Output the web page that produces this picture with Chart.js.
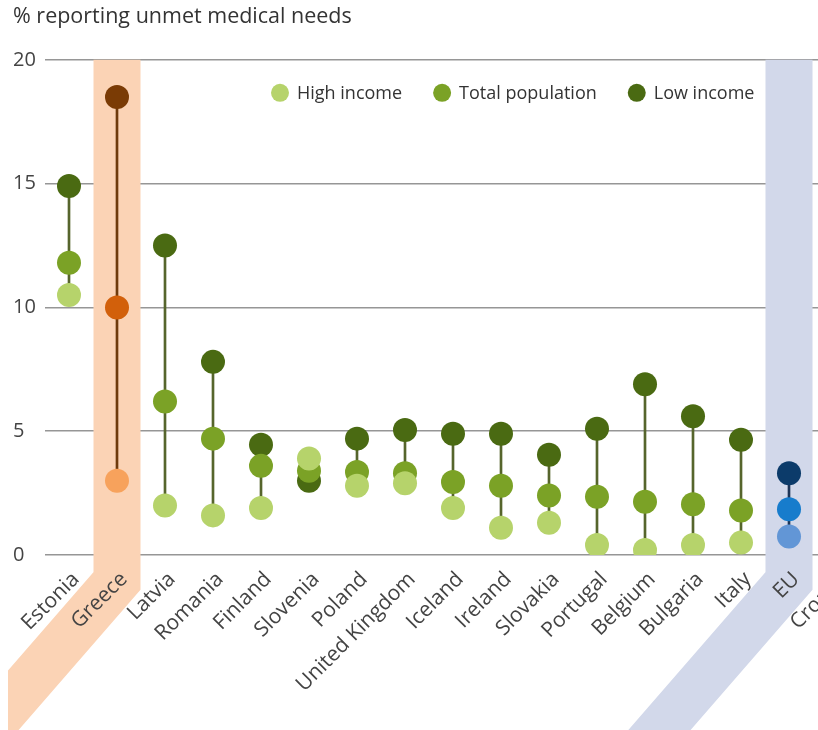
<!DOCTYPE html>
<html><head><meta charset="utf-8">
<script src="https://cdn.jsdelivr.net/npm/chart.js@4.4.0/dist/chart.umd.min.js"></script>
<style>
html,body{margin:0;padding:0;overflow:hidden;background:#fff;width:818px;height:730px}
#wrap{position:absolute;left:0;top:0;width:873px;height:730px}
</style></head>
<body><div id="wrap"><canvas id="c"></canvas></div>
<script>
const categories = ['Estonia','Greece','Latvia','Romania','Finland','Slovenia','Poland','United Kingdom','Iceland','Ireland','Slovakia','Portugal','Belgium','Bulgaria','Italy','EU','Croatia'];
const highIncome      = [10.5, 3.0, 2.0, 1.6, 1.9, 3.9, 2.8, 2.9, 1.9, 1.1, 1.3, 0.4, 0.2, 0.4, 0.5, 0.75, null];
const totalPopulation = [11.8, 10.0, 6.2, 4.7, 3.6, 3.4, 3.35, 3.3, 2.95, 2.8, 2.4, 2.35, 2.15, 2.05, 1.8, 1.85, null];
const lowIncome       = [14.9, 18.5, 12.5, 7.8, 4.45, 3.0, 4.7, 5.05, 4.9, 4.9, 4.05, 5.1, 6.9, 5.6, 4.65, 3.3, null];
const yTicks = [0, 5, 10, 15, 20];
const seriesNames = ['High income', 'Total population', 'Low income'];
const titleText = '% reporting unmet medical needs';

const FONT = "'Open Sans', sans-serif";
const greenCols  = {high:'#b6d36b', total:'#7ba226', low:'#4a6a12', line:'#56652c'};
const greeceCols = {high:'#f7a25c', total:'#d2600b', low:'#7a3b05', line:'#6e3a0c'};
const euCols     = {high:'#6296d6', total:'#177ccc', low:'#0c3b6a', line:'#1d3557'};
function palette(i){ const c = categories[i]; return c === 'Greece' ? greeceCols : c === 'EU' ? euCols : greenCols; }
const colFor = key => ctx => palette(ctx.dataIndex)[key];

const ranges = categories.map((c, i) => highIncome[i] == null ? null : [Math.min(highIncome[i], lowIncome[i]), Math.max(highIncome[i], lowIncome[i])]);

const bandPlugin = {
  id: 'bands',
  beforeDatasetsDraw(chart) {
    const xs = chart.scales.x, {ctx, chartArea} = chart;
    const step = xs.getPixelForValue(1) - xs.getPixelForValue(0);
    const bands = [['Greece', '#fbd3b5'], ['EU', '#d2d8ea']];
    ctx.save();
    ctx.beginPath(); ctx.rect(8, 0, chart.width, chart.height); ctx.clip();
    bands.forEach(([name, color]) => {
      const cx = xs.getPixelForValue(categories.indexOf(name));
      const yb = chartArea.bottom + 26;
      const th = 49 * Math.PI / 180, L = 500;
      ctx.strokeStyle = color; ctx.lineWidth = step - 1; ctx.lineJoin = 'miter'; ctx.lineCap = 'butt';
      ctx.beginPath(); ctx.moveTo(cx, chartArea.top); ctx.lineTo(cx, yb);
      ctx.lineTo(cx - L * Math.cos(th), yb + L * Math.sin(th)); ctx.stroke();
    });
    ctx.restore();
  }
};

const legendPlugin = {
  id: 'customLegend',
  afterDraw(chart) {
    const {ctx, chartArea} = chart;
    const y = chartArea.top + 33;
    const cols = [greenCols.high, greenCols.total, greenCols.low];
    ctx.save();
    ctx.font = "18px " + FONT; ctx.textBaseline = 'middle';
    let x = 271;
    seriesNames.forEach((n, i) => {
      ctx.beginPath(); ctx.fillStyle = cols[i]; ctx.arc(x + 9, y, 9, 0, Math.PI * 2); ctx.fill();
      ctx.fillStyle = '#333'; ctx.fillText(n, x + 26, y + 1);
      x += 26 + ctx.measureText(n).width + 31;
    });
    ctx.restore();
  }
};

const pointDs = (label, data, key) => ({
  type: 'line', label, data, showLine: false, order: 0,
  pointRadius: 12, pointHoverRadius: 12, pointBorderWidth: 0,
  pointBackgroundColor: colFor(key), pointBorderColor: colFor(key), backgroundColor: colFor(key)
});

new Chart(document.getElementById('c'), {
  data: {
    labels: categories,
    datasets: [
      pointDs(seriesNames[0], highIncome, 'high'),
      pointDs(seriesNames[1], totalPopulation, 'total'),
      pointDs(seriesNames[2], lowIncome, 'low'),
      { type: 'bar', label: 'range', data: ranges, order: 1, barThickness: 2, backgroundColor: colFor('line') }
    ]
  },
  options: {
    responsive: true, maintainAspectRatio: false, animation: false,
    layout: { padding: { left: 13, right: 0, top: 0, bottom: 0 } },
    plugins: {
      legend: { display: false }, tooltip: { enabled: false },
      title: { display: true, text: titleText, align: 'start', color: '#333',
        font: { family: FONT, size: 21.5, weight: 'normal' }, padding: { top: 4, bottom: 30 } }
    },
    scales: {
      x: {
        offset: true,
        grid: { display: false }, border: { display: false },
        ticks: { z: 1, autoSkip: false, maxRotation: 45, minRotation: 45, padding: 4, labelOffset: 7, color: '#444',
          font: { family: FONT, size: 21 } },
        afterFit: s => { s.height = 175; }
      },
      y: {
        min: 0, max: 20,
        afterBuildTicks: s => { s.ticks = yTicks.map(v => ({ value: v })); },
        grid: { color: '#969696', lineWidth: 1.5, drawTicks: false }, border: { display: false },
        ticks: { crossAlign: 'far', padding: 8, color: '#444', font: { family: FONT, size: 20 } },
        afterFit: s => { s.width = 32; }
      }
    }
  },
  plugins: [bandPlugin, legendPlugin]
});
</script></body></html>
